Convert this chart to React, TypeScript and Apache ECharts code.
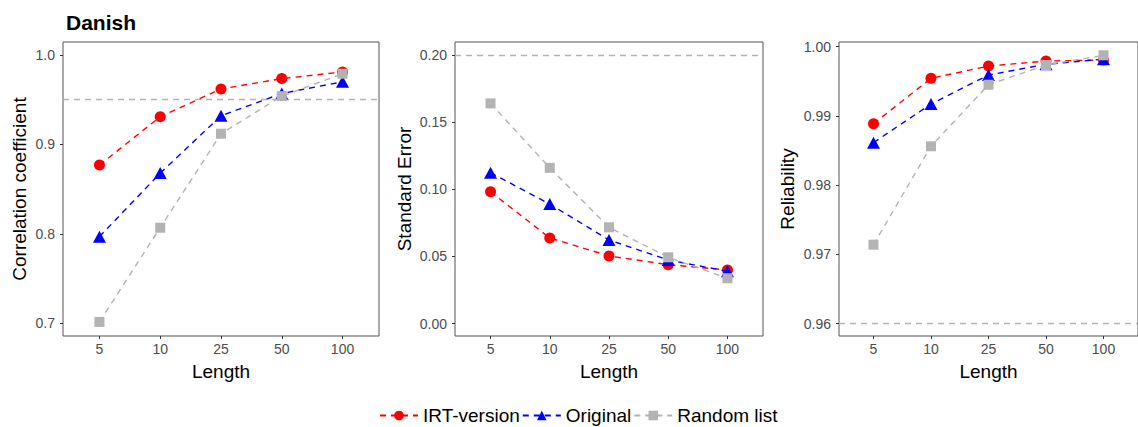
import React, { useEffect, useRef } from "react";
import * as echarts from "echarts";

const categories = ["5", "10", "25", "50", "100"];
const seriesNames = ["IRT-version", "Original", "Random list"];

const corrIRT = [0.877, 0.931, 0.962, 0.9736, 0.981];
const corrOriginal = [0.797, 0.868, 0.932, 0.957, 0.970];
const corrRandom = [0.7017, 0.807, 0.912, 0.954, 0.979];

const seIRT = [0.0982, 0.0638, 0.0504, 0.0439, 0.040];
const seOriginal = [0.1124, 0.089, 0.0623, 0.0474, 0.039];
const seRandom = [0.164, 0.116, 0.0717, 0.0494, 0.0338];

const relIRT = [0.98888, 0.99543, 0.99721, 0.99793, 0.99808];
const relOriginal = [0.98614, 0.99173, 0.99591, 0.99746, 0.9982];
const relRandom = [0.97141, 0.98562, 0.99451, 0.99736, 0.99876];

const corrTicks = [0.7, 0.8, 0.9, 1.0];
const seTicks = [0.0, 0.05, 0.1, 0.15, 0.2];
const relTicks = [0.96, 0.97, 0.98, 0.99, 1.0];

const corrRef = 0.95;
const seRef = 0.2;
const relRef = 0.96;

const FONT = "Liberation Sans, Arial, Helvetica, sans-serif";
const colors = ["#FF0000", "#0000FF", "#B3B3B3"];
const symbols = ["circle", "triangle", "rect"];
const symbolSizes: any[] = [11, [13, 12], 10];

export default function App() {
  const ref = useRef<HTMLDivElement>(null);
  useEffect(() => {
    if (!ref.current) return;
    const chart = echarts.init(ref.current, null, { renderer: "svg" });

    const panels = [
      { data: [corrIRT, corrOriginal, corrRandom], ticks: corrTicks, dec: 1, min: 0.686, max: 1.0145, ref: corrRef, name: "Correlation coefficient", gap: 34, left: 63 },
      { data: [seIRT, seOriginal, seRandom], ticks: seTicks, dec: 2, min: -0.0092, max: 0.2097, ref: seRef, name: "Standard Error", gap: 41, left: 455 },
      { data: [relIRT, relOriginal, relRandom], ticks: relTicks, dec: 2, min: 0.95822, max: 1.00068, ref: relRef, name: "Reliability", gap: 42, left: 839 },
    ];
    const widths = [316, 308, 308];

    const grid = panels.map((p, i) => ({
      left: p.left,
      top: 42,
      width: widths[i],
      height: 294,
      show: true,
      borderColor: "#555555",
      borderWidth: 1,
      backgroundColor: "transparent",
      containLabel: false,
    }));

    const idx = [0, 1, 2, 3, 4];
    const xAxis = panels.map((p, i) => ({
      type: "value",
      gridIndex: i,
      min: -0.6,
      max: 4.6,
      name: "Length",
      nameLocation: "middle",
      nameGap: 26,
      nameTextStyle: { color: "#000", fontSize: 19, fontFamily: FONT },
      axisLine: { show: false, onZero: false },
      splitLine: { show: false },
      axisTick: { show: true, length: 3, lineStyle: { color: "#333" }, customValues: idx },
      axisLabel: {
        color: "#4D4D4D",
        fontSize: 14,
        fontFamily: FONT,
        margin: 6,
        customValues: idx,
        formatter: (v: number) => categories[Math.round(v)] ?? "",
      },
    }));

    const yAxis = panels.map((p, i) => ({
      type: "value",
      gridIndex: i,
      min: p.min,
      max: p.max,
      name: p.name,
      nameLocation: "middle",
      nameGap: p.gap,
      nameTextStyle: { color: "#000", fontSize: 19, fontFamily: FONT },
      axisLine: { show: false, onZero: false },
      splitLine: { show: false },
      axisTick: { show: true, length: 3, lineStyle: { color: "#333" }, customValues: p.ticks },
      axisLabel: {
        color: "#4D4D4D",
        fontSize: 14,
        fontFamily: FONT,
        margin: 8,
        customValues: p.ticks,
        formatter: (v: number) => v.toFixed(p.dec),
      },
    }));

    const series: any[] = [];
    panels.forEach((p, gi) => {
      p.data.forEach((vals, si) => {
        series.push({
          type: "line",
          name: seriesNames[si],
          xAxisIndex: gi,
          yAxisIndex: gi,
          data: vals.map((v, k) => [idx[k], v]),
          symbol: symbols[si],
          symbolSize: symbolSizes[si],
          showSymbol: true,
          itemStyle: { color: colors[si] },
          lineStyle: { color: colors[si], width: 1.4, type: [6, 5] },
          z: 3 + si,
          markLine:
            si === 0
              ? {
                  silent: true,
                  symbol: ["none", "none"],
                  label: { show: false },
                  lineStyle: { color: "#B3B3B3", width: 1.4, type: [6, 5] },
                  data: [{ yAxis: p.ref }],
                  z: 1,
                }
              : undefined,
        });
      });
    });

    chart.setOption({
      animation: false,
      backgroundColor: "#ffffff",
      title: {
        text: "Danish",
        left: 61,
        top: 7,
        textStyle: { fontFamily: FONT, fontSize: 21, fontWeight: "bold", color: "#000" },
      },
      legend: {
        data: seriesNames,
        top: 405,
        left: 374,
        padding: [1, 5, 1, 5],
        itemWidth: 38,
        itemHeight: 12,
        itemGap: 2,
        textStyle: { fontFamily: FONT, fontSize: 19, lineHeight: 19, color: "#000" },
      },
      grid,
      xAxis,
      yAxis,
      series,
    } as any);

    return () => chart.dispose();
  }, []);

  return (
    <div
      ref={ref}
      style={{ position: "fixed", left: 0, top: 0, width: 1138, height: 427 }}
    />
  );
}
